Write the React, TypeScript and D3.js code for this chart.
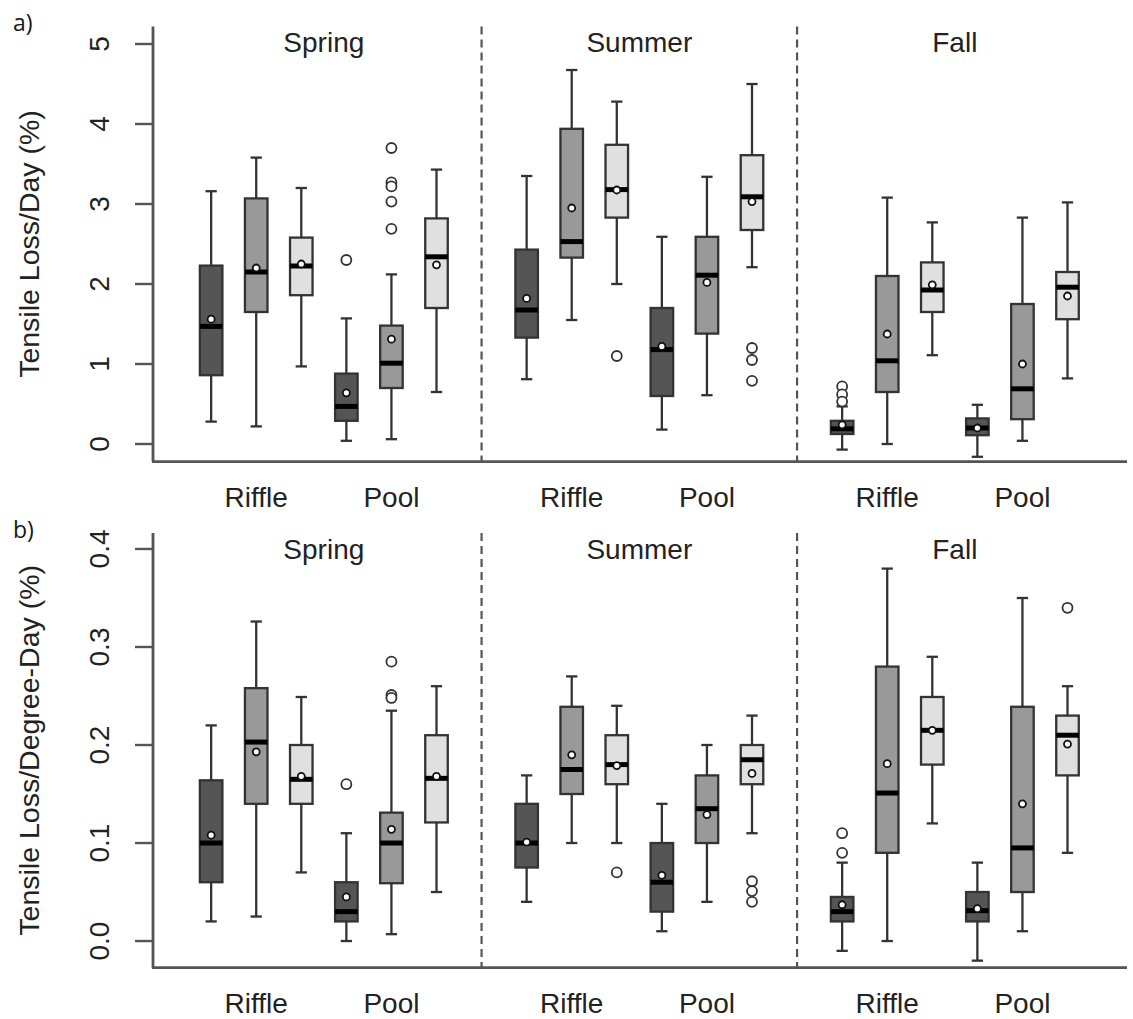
import React from "react";
import * as d3 from "d3";

const seasons = ["Spring", "Summer", "Fall"];
const habitats = ["Riffle", "Pool"];
const boxFills = ["#555555", "#999999", "#e0e0e0"];

// panel a: tensile loss per day (%)
const dayLow = [0.28, 0.22, 0.97, 0.04, 0.06, 0.65, 0.81, 1.55, 2.0, 0.18, 0.61, 2.21, -0.07, 0.0, 1.11, -0.16, 0.04, 0.82];
const dayQ1 = [0.86, 1.65, 1.86, 0.29, 0.7, 1.7, 1.33, 2.33, 2.83, 0.6, 1.38, 2.675, 0.125, 0.65, 1.65, 0.11, 0.31, 1.56];
const dayMedian = [1.47, 2.15, 2.225, 0.47, 1.01, 2.34, 1.675, 2.53, 3.18, 1.18, 2.11, 3.09, 0.19, 1.04, 1.925, 0.2, 0.69, 1.96];
const dayQ3 = [2.23, 3.07, 2.58, 0.88, 1.48, 2.82, 2.43, 3.94, 3.74, 1.7, 2.59, 3.61, 0.29, 2.1, 2.27, 0.32, 1.75, 2.15];
const dayHigh = [3.16, 3.58, 3.2, 1.57, 2.12, 3.43, 3.35, 4.675, 4.28, 2.59, 3.34, 4.5, 0.47, 3.08, 2.77, 0.49, 2.83, 3.02];
const dayMean = [1.56, 2.2, 2.25, 0.64, 1.31, 2.24, 1.82, 2.95, 3.175, 1.22, 2.02, 3.03, 0.24, 1.375, 1.99, 0.2, 1.0, 1.85];
const dayOutliers = [[], [], [], [2.3], [3.7, 3.27, 3.22, 3.03, 2.69], [], [], [], [1.1], [], [], [1.2, 1.05, 0.79], [0.72, 0.62, 0.53], [], [], [], [], []];
const dayTicks = [0, 1, 2, 3, 4, 5];

// panel b: tensile loss per degree-day (%)
const ddLow = [0.02, 0.025, 0.07, 0.0, 0.007, 0.05, 0.04, 0.1, 0.1, 0.01, 0.04, 0.11, -0.01, 0.0, 0.12, -0.02, 0.01, 0.09];
const ddQ1 = [0.06, 0.14, 0.14, 0.02, 0.059, 0.121, 0.075, 0.15, 0.16, 0.03, 0.1, 0.16, 0.02, 0.09, 0.18, 0.02, 0.05, 0.169];
const ddMedian = [0.1, 0.203, 0.165, 0.03, 0.1, 0.166, 0.1, 0.175, 0.18, 0.06, 0.135, 0.185, 0.03, 0.151, 0.215, 0.031, 0.095, 0.21];
const ddQ3 = [0.164, 0.258, 0.2, 0.06, 0.131, 0.21, 0.14, 0.239, 0.21, 0.1, 0.169, 0.2, 0.045, 0.28, 0.249, 0.05, 0.239, 0.23];
const ddHigh = [0.22, 0.326, 0.249, 0.11, 0.235, 0.26, 0.169, 0.27, 0.24, 0.14, 0.2, 0.23, 0.08, 0.38, 0.29, 0.08, 0.35, 0.26];
const ddMean = [0.108, 0.193, 0.168, 0.045, 0.114, 0.168, 0.101, 0.19, 0.179, 0.067, 0.129, 0.171, 0.037, 0.181, 0.215, 0.033, 0.14, 0.201];
const ddOutliers = [[], [], [], [0.16], [0.285, 0.251, 0.248], [], [], [], [0.07], [], [], [0.061, 0.051, 0.04], [0.11, 0.09], [], [], [], [], [0.34]];
const ddTicks = [0, 0.1, 0.2, 0.3, 0.4];

const FONT = "'Liberation Sans', Arial, sans-serif";
const AXIS = "#555555";

const x = d3.scaleLinear().domain([-0.29, 21.32]).range([153, 1127]);
const posOf = (i: number) => Math.floor(i / 6) * 7 + (i % 6) + 1;
const halfBox = x(1.25) - x(1);

function Panel({ label, title, top, bottom, yDomain, ticks, fmt, low, q1, med, q3, high, mean, outliers }: any) {
  const y = d3.scaleLinear().domain(yDomain).range([bottom, top]);
  return (
    <g>
      <text x={13} y={top + 5} fontFamily="'Open Sans', sans-serif" fontSize={23} fill="#161616">{label}</text>
      {/* axes */}
      <line x1={x.range()[0]} x2={x.range()[0]} y1={top} y2={bottom} stroke={AXIS} strokeWidth={2.8} />
      <line x1={x.range()[0] - 1} x2={x.range()[1]} y1={bottom} y2={bottom} stroke={AXIS} strokeWidth={2.8} />
      {ticks.map((t: number) => (
        <g key={t}>
          <line x1={135} x2={153} y1={y(t)} y2={y(t)} stroke={AXIS} strokeWidth={2.4} />
          <text transform={`translate(109,${y(t)}) rotate(-90)`} textAnchor="middle" fontFamily={FONT} fontSize={28} fill="#222">{fmt(t)}</text>
        </g>
      ))}
      <text transform={`translate(39,${(top + bottom) / 2}) rotate(-90)`} textAnchor="middle" fontFamily={FONT} fontSize={28.5} fill="#222">{title}</text>
      {/* season separators */}
      {[7, 14].map((p) => (
        <line key={p} x1={x(p)} x2={x(p)} y1={top} y2={bottom} stroke={AXIS} strokeWidth={2.2} strokeDasharray="8,5" />
      ))}
      {seasons.map((s, k) => (
        <g key={s}>
          <text x={x(k * 7 + 3.5)} y={top + 26} textAnchor="middle" fontFamily={FONT} fontSize={28} fill="#222">{s}</text>
          {habitats.map((h, j) => (
            <text key={h} x={x(k * 7 + 2 + j * 3)} y={bottom + 45} textAnchor="middle" fontFamily={FONT} fontSize={28} fill="#222">{h}</text>
          ))}
        </g>
      ))}
      {/* boxes */}
      {med.map((m: number, i: number) => {
        const cx = x(posOf(i));
        return (
          <g key={i}>
            <line x1={cx} x2={cx} y1={y(high[i])} y2={y(q3[i])} stroke="#333" strokeWidth={2.3} />
            <line x1={cx} x2={cx} y1={y(q1[i])} y2={y(low[i])} stroke="#333" strokeWidth={2.3} />
            <line x1={cx - halfBox / 2} x2={cx + halfBox / 2} y1={y(high[i])} y2={y(high[i])} stroke="#333" strokeWidth={2.3} />
            <line x1={cx - halfBox / 2} x2={cx + halfBox / 2} y1={y(low[i])} y2={y(low[i])} stroke="#333" strokeWidth={2.3} />
            <rect x={cx - halfBox} y={y(q3[i])} width={halfBox * 2} height={y(q1[i]) - y(q3[i])} fill={boxFills[i % 3]} stroke="#333" strokeWidth={2.3} />
            <line x1={cx - halfBox} x2={cx + halfBox} y1={y(m)} y2={y(m)} stroke="#000" strokeWidth={5} />
            {outliers[i].map((o: number, k: number) => (
              <circle key={k} cx={cx} cy={y(o)} r={5} fill="#fff" stroke="#333" strokeWidth={1.8} />
            ))}
            <circle cx={cx} cy={y(mean[i])} r={3.5} fill="#fff" stroke="#111" strokeWidth={1.8} />
          </g>
        );
      })}
    </g>
  );
}

export default function App() {
  return (
    <svg width={1133} height={1019} style={{ position: "absolute", left: 0, top: 0, background: "#fff" }}>
      <rect width={1133} height={1019} fill="#fff" />
      <Panel label="a)" title="Tensile Loss/Day (%)" top={26.4} bottom={461.6} yDomain={[-0.22, 5.22]}
        ticks={dayTicks} fmt={d3.format("d")} low={dayLow} q1={dayQ1} med={dayMedian} q3={dayQ3}
        high={dayHigh} mean={dayMean} outliers={dayOutliers} />
      <Panel label="b)" title="Tensile Loss/Degree-Day (%)" top={533} bottom={967.7} yDomain={[-0.0272, 0.4163]}
        ticks={ddTicks} fmt={d3.format(".1f")} low={ddLow} q1={ddQ1} med={ddMedian} q3={ddQ3}
        high={ddHigh} mean={ddMean} outliers={ddOutliers} />
    </svg>
  );
}
